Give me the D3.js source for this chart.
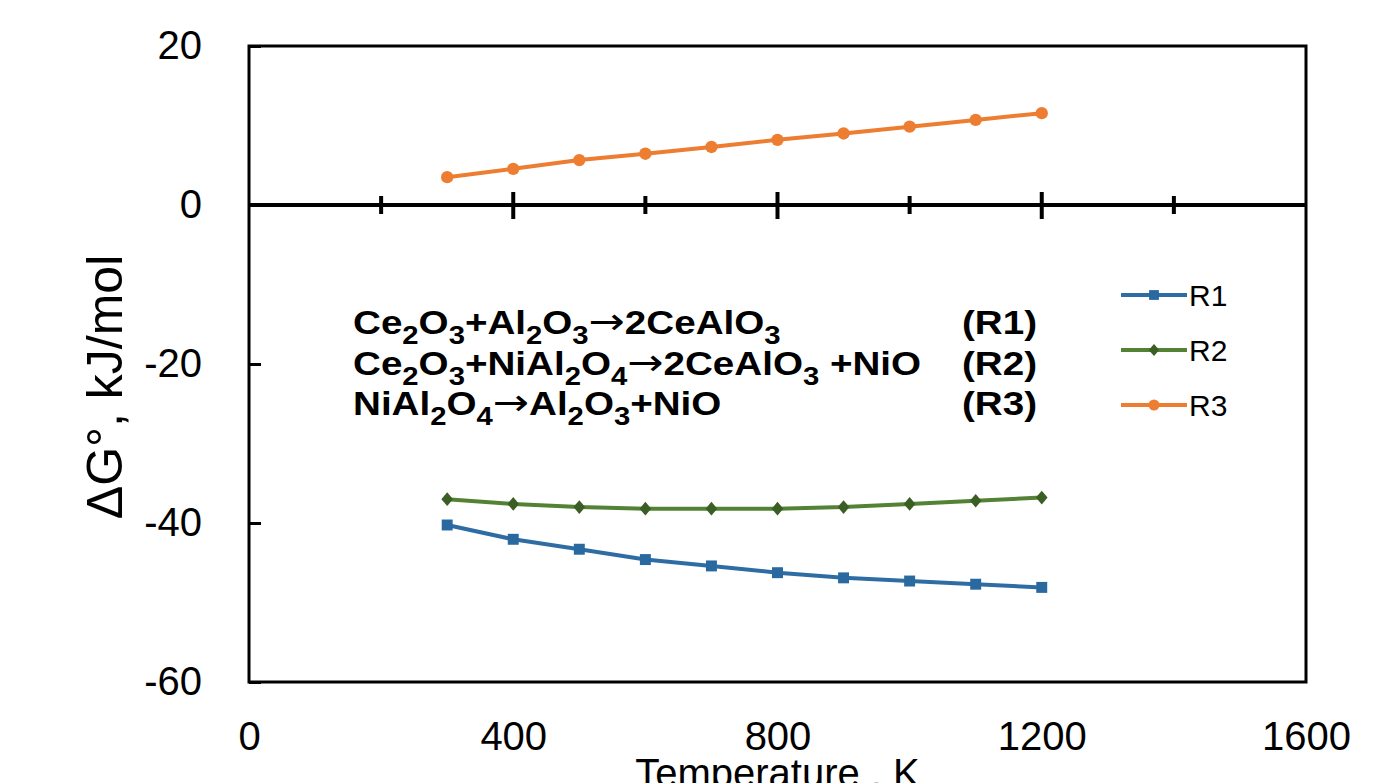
<!DOCTYPE html>
<html>
<head>
<meta charset="utf-8">
<script src="https://cdn.jsdelivr.net/npm/d3@7"></script>
<style>
  body { margin: 0; background: #fff; }
  text { font-family: Arial, "Liberation Sans", sans-serif; }
</style>
</head>
<body>
<svg id="chart" width="1394" height="783"></svg>
<script>
// data
let temps = [300, 400, 500, 600, 700, 800, 900, 1000, 1100, 1200];
let r1 = [-40.25, -42.05, -43.3, -44.6, -45.4, -46.25, -46.9, -47.3, -47.7, -48.1];
let r2 = [-37.0, -37.6, -38.0, -38.2, -38.2, -38.2, -38.0, -37.6, -37.2, -36.8];
let r3 = [3.5, 4.55, 5.65, 6.45, 7.3, 8.2, 9.0, 9.85, 10.7, 11.55];
let seriesNames = ["R1", "R2", "R3"];
let xTicks = [0, 400, 800, 1200, 1600];
let xMinorTicks = [200, 400, 600, 800, 1000, 1200, 1400];
let yTicks = [-60, -40, -20, 0, 20];
let reactions = ["Ce_2O_3+Al_2O_3→2CeAlO_3", "Ce_2O_3+NiAl_2O_4→2CeAlO_3 +NiO", "NiAl_2O_4→Al_2O_3+NiO"];
let reactionTags = ["(R1)", "(R2)", "(R3)"];

let plotLeft = 249, plotRight = 1306, plotTop = 46, plotBottom = 682;
let svg = d3.select("#chart");

let x = d3.scaleLinear().domain([0, 1600]).range([plotLeft, plotRight]);
let y = d3.scaleLinear().domain([-60, 20]).range([plotBottom, plotTop]);

// frame
svg.append("rect")
    .attr("x", plotLeft).attr("y", plotTop)
    .attr("width", plotRight - plotLeft).attr("height", plotBottom - plotTop)
    .attr("fill", "none")
    .style("stroke", "black")
    .style("stroke-width", 3);

// y axis, ticks pointing inwards
let yAxis = svg.append("g")
    .attr("transform", "translate(" + plotLeft + ",0)")
    .call(d3.axisLeft(y).tickValues(yTicks).tickFormat(d => String(d))
        .tickSizeInner(-12).tickSizeOuter(0).tickPadding(47));
yAxis.select(".domain").remove();
yAxis.selectAll("line").style("stroke", "black").style("stroke-width", 3);
yAxis.selectAll("text")
    .style("font-size", "40px")
    .style("font-family", "Arial, 'Liberation Sans', sans-serif")
    .attr("fill", "black");

// x tick labels under the frame
let xAxis = svg.append("g")
    .attr("transform", "translate(0," + plotBottom + ")")
    .call(d3.axisBottom(x).tickValues(xTicks).tickFormat(d => String(d))
        .tickSize(0).tickPadding(40));
xAxis.select(".domain").remove();
xAxis.selectAll("text")
    .style("font-size", "40px")
    .style("font-family", "Arial, 'Liberation Sans', sans-serif")
    .attr("fill", "black");

// zero line with crossing ticks
svg.append("line")
    .attr("x1", plotLeft).attr("x2", plotRight)
    .attr("y1", y(0)).attr("y2", y(0))
    .style("stroke", "black")
    .style("stroke-width", 4);

svg.selectAll(".zero-tick")
    .data(xMinorTicks)
    .enter().append("line")
    .attr("class", "zero-tick")
    .attr("x1", d => x(d)).attr("x2", d => x(d))
    .attr("y1", d => y(0) - (d % 400 == 0 ? 13 : 9))
    .attr("y2", d => y(0) + (d % 400 == 0 ? 14 : 9))
    .style("stroke", "black")
    .style("stroke-width", 4);

// axis titles
svg.append("text")
    .attr("transform", "translate(122," + 387 + ") rotate(-90)")
    .attr("text-anchor", "middle")
    .style("font-size", "50px")
    .text("ΔG°, kJ/mol");

svg.append("text")
    .attr("x", x(800))
    .attr("y", 787)
    .attr("text-anchor", "middle")
    .style("font-size", "40px")
    .text("Temperature , K");

// small diamond, a bit wider than d3's own
let diamond = {
    draw: function(context, size) {
        let h = Math.sqrt(size) * 0.6, w = h * 0.85;
        context.moveTo(0, -h);
        context.lineTo(w, 0);
        context.lineTo(0, h);
        context.lineTo(-w, 0);
        context.closePath();
    }
};

// series
let series = [
    { name: seriesNames[0], values: r1, line: "#2E6DA4", mark: "#2A68A0", shape: d3.symbolSquare, size: 120 },
    { name: seriesNames[1], values: r2, line: "#548235", mark: "#3B5E25", shape: diamond, size: 130 },
    { name: seriesNames[2], values: r3, line: "#ED7D31", mark: "#ED7D31", shape: d3.symbolCircle, size: 120 }
];

let line = d3.line()
    .x((d, i) => x(temps[i]))
    .y(d => y(d));

series.forEach(s => {
    svg.append("path")
        .datum(s.values)
        .attr("d", line)
        .attr("fill", "none")
        .style("stroke", s.line)
        .style("stroke-width", 4);

    svg.selectAll(".pt-" + s.name)
        .data(s.values)
        .enter().append("path")
        .attr("class", "pt-" + s.name)
        .attr("transform", (d, i) => "translate(" + x(temps[i]) + "," + y(d) + ")")
        .attr("d", d3.symbol().type(s.shape).size(s.size))
        .attr("fill", s.mark);
});

// legend
let legendY = [295, 350, 405];
series.forEach((s, i) => {
    let g = svg.append("g").attr("transform", "translate(1121," + legendY[i] + ")");
    g.append("line")
        .attr("x1", 0).attr("x2", 66)
        .style("stroke", s.line)
        .style("stroke-width", 4);
    g.append("path")
        .attr("transform", "translate(33,0)")
        .attr("d", d3.symbol().type(s.shape).size(s.size * 0.8))
        .attr("fill", s.mark);
    g.append("text")
        .attr("x", 68)
        .attr("y", 10.5)
        .style("font-size", "30px")
        .text(s.name);
});

// reaction labels with subscripts (the original type is drawn wide)
let rowY = [334, 375, 415];
let stretch = 1.17;
reactions.forEach((r, i) => {
    let t = svg.append("g")
        .attr("transform", "translate(353," + rowY[i] + ") scale(" + stretch + ",1)")
        .append("text")
        .style("font-size", "33px")
        .style("font-weight", "bold");
    let parts = r.split(/(_\d|→)/);
    let sub = false;
    parts.forEach(p => {
        if (p == "") return;
        if (p[0] == "_") {
            t.append("tspan")
                .attr("dy", sub ? 0 : 10)
                .style("font-size", "25px")
                .text(p.slice(1));
            sub = true;
        } else if (p == "→") {
            t.append("tspan")
                .attr("dy", sub ? -10 : 0)
                .style("font-size", "37px")
                .style("font-weight", "normal")
                .style("font-family", "'DejaVu Sans', sans-serif")
                .text(p);
            sub = false;
        } else {
            let ts = t.append("tspan").text(p);
            if (sub) ts.attr("dy", -10);
            sub = false;
        }
    });
    svg.append("g")
        .attr("transform", "translate(1037," + rowY[i] + ") scale(" + stretch + ",1)")
        .append("text")
        .attr("text-anchor", "end")
        .style("font-size", "33px")
        .style("font-weight", "bold")
        .text(reactionTags[i]);
});
</script>
</body>
</html>
